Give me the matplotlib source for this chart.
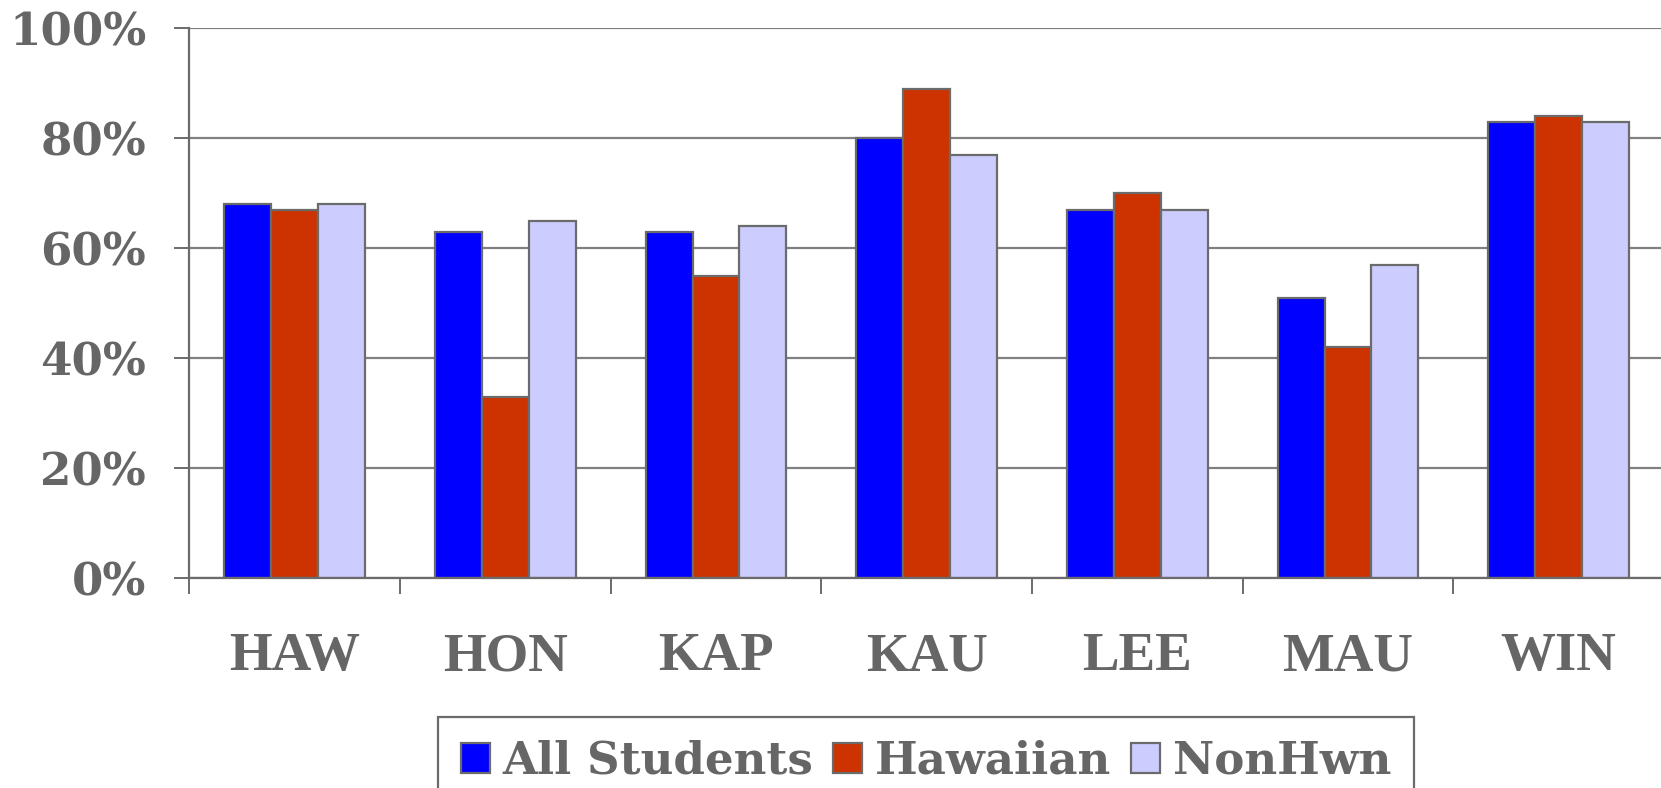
import matplotlib
matplotlib.use("Agg")
import matplotlib.pyplot as plt
import numpy as np
from matplotlib.ticker import FixedLocator

categories = ["HAW", "HON", "KAP", "KAU", "LEE", "MAU", "WIN"]
all_students = [68, 63, 63, 80, 67, 51, 83]
hawaiian = [67, 33, 55, 89, 70, 42, 84]
nonhwn = [68, 65, 64, 77, 67, 57, 83]
series_names = ["All Students", "Hawaiian", "NonHwn"]
yticks = [0, 20, 40, 60, 80, 100]
ytick_labels = ["0%", "20%", "40%", "60%", "80%", "100%"]

colors = ["#0000FF", "#CC3300", "#CCCCFF"]
gray = "#6b6b6b"
text_gray = "#666666"

W, H = 1661, 788
fig = plt.figure(figsize=(W / 100, H / 100), dpi=100)
ax = fig.add_axes([189.3 / W, 1 - 578.3 / H, (1664 - 189.3) / W, (578.3 - 28.3) / H])

x = np.arange(len(categories))
bw = 1 / 4.5
handles = []
for k, (vals, name) in enumerate(zip([all_students, hawaiian, nonhwn], series_names)):
    b = ax.bar(x + (k - 1) * bw, vals, width=bw, color=colors[k],
               edgecolor=gray, linewidth=1.6, label=name, zorder=3)
    handles.append(b)

ax.set_xlim(-0.5, len(categories) - 0.5)
ax.set_ylim(0, 100)
ax.set_yticks(yticks)
ax.set_yticklabels(ytick_labels, fontfamily="DejaVu Serif", fontweight="bold",
                   fontsize=32.5, color=text_gray)
ax.yaxis.grid(True, color="#808080", linewidth=1.6, zorder=0)
ax.set_axisbelow(True)
ax.tick_params(axis="y", length=11, width=1.4, color=gray, pad=20, direction="out")

ax.set_xticks(x)
ax.set_xticklabels(categories, fontfamily="Liberation Serif", fontweight="bold",
                   fontsize=39.5, color=text_gray)
ax.tick_params(axis="x", which="major", length=0, pad=39)
ax.xaxis.set_minor_locator(FixedLocator(np.arange(-0.5, len(categories), 1.0)))
ax.tick_params(axis="x", which="minor", length=11.5, width=1.4, color=gray, direction="out")

for s in ["top", "right"]:
    ax.spines[s].set_visible(False)
for s in ["left", "bottom"]:
    ax.spines[s].set_color(gray)
    ax.spines[s].set_linewidth(1.6)
    ax.spines[s].set_zorder(4)

leg = fig.legend(handles=handles, labels=series_names, loc="upper center",
                 bbox_to_anchor=(926 / W, 1 - 717 / H), ncol=3, frameon=True,
                 fancybox=False, shadow=False, edgecolor=gray, framealpha=1,
                 prop={"family": "DejaVu Serif", "weight": "bold", "size": 32.5},
                 handlelength=0.64, handleheight=0.66, handletextpad=0.28,
                 columnspacing=0.45, borderpad=0.5, borderaxespad=0)
leg.get_frame().set_linewidth(1.6)
for t in leg.get_texts():
    t.set_color(text_gray)
for p in leg.get_patches():
    p.set_edgecolor(gray)
    p.set_linewidth(1.6)

fig.savefig("out.png", dpi=100)
